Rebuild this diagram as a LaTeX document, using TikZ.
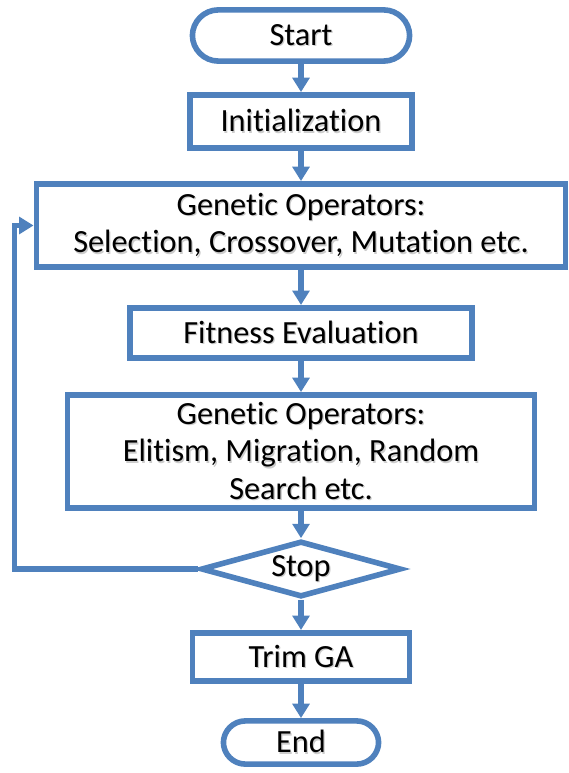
\documentclass[tikz,border=0pt]{standalone}
\usepackage{fontspec}
\setmainfont{Carlito}[Ligatures=NoCommon]
\usetikzlibrary{arrows.meta}
\usetikzlibrary{shapes.geometric}
\definecolor{gablue}{HTML}{4F81BD}
\newcommand\shtxt[1]{\rlap{\kern.9pt\raisebox{-1pt}{\color{black!20}#1}}#1}
\tikzset{> = {Triangle[width=.42cm,length=.36cm]}}
\tikzset{box/.style={draw=gablue, line width=.14cm, fill=white, text=black, align=center, inner sep=0,
    font=\fontsize{23}{26.7}\selectfont},
  term/.style={box, rounded corners=.65cm},
  test/.style={box, diamond, aspect=4},
  flow/.style={->, color=gablue, line width=.14cm}}

\begin{document}
\begin{tikzpicture}[x=.025cm,y=-.025cm]
	\useasboundingbox (0,0) rectangle (569,773);
	\node[term, minimum width=5.43cm, minimum height=1.28cm] (start) at (301,35.5){\shtxt{Start}};
	\node[box, minimum width=5.56cm, minimum height=1.33cm] (init) at (301,121.5){\shtxt{Initialization}};
	\node[box, minimum width=13.23cm, minimum height=2.08cm] (go1) at (301,225.5){\shtxt{Genetic Operators:}\\\shtxt{Selection, Crossover, Mutation etc.}};
	\node[box, minimum width=8.56cm, minimum height=1.26cm] (fit) at (301,333){\shtxt{Fitness Evaluation}};
	\node[box, minimum width=11.68cm, minimum height=2.83cm] (go2) at (301,451.5){\shtxt{Genetic Operators:}\\\shtxt{Elitism, Migration, Random}\\\shtxt{Search etc.}};
	\node[test, minimum width=5.0cm, minimum height=1.4cm] (stop) at (301,569){\shtxt{Stop}};
	\node[box, minimum width=5.43cm, minimum height=1.21cm] (trim) at (301,657){\shtxt{Trim GA}};
	\node[term, rounded corners=.55cm, minimum width=3.88cm, minimum height=1.08cm] (end) at (301,742.5){\shtxt{End}};
	%main flow, top to bottom
	\draw[flow] (start)--(init);
	\draw[flow] (init)--(go1);
	\draw[flow] (go1)--(fit);
	\draw[flow] (fit)--(go2);
	\draw[flow] (go2)--(stop);
	\draw[flow] (stop)--(trim);
	\draw[flow] (trim)--(end);
	%back to the first operators when not stopping
	\coordinate (turn) at (14.5,569);
	\draw[flow] (stop.west)--(turn)|-(go1.west);
\end{tikzpicture}
\end{document}
